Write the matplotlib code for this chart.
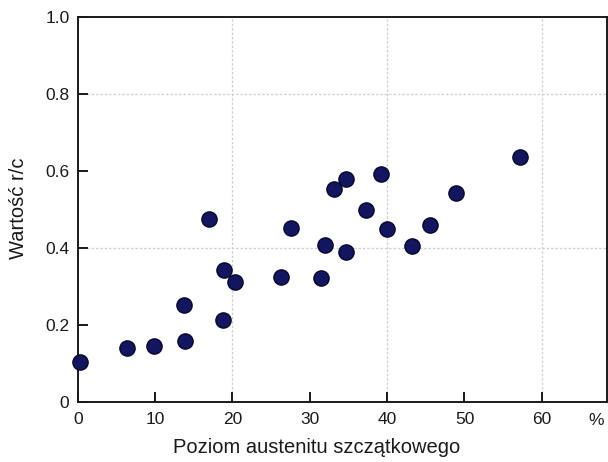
import matplotlib
matplotlib.use("Agg")
import matplotlib.pyplot as plt

# Data
austenite = [0.3, 6.4, 9.9, 13.8, 13.7, 18.8, 18.9, 20.3, 16.9, 26.3, 27.6, 31.4,
             32.0, 33.1, 34.7, 34.7, 37.3, 39.2, 40.0, 43.2, 45.6, 48.9, 57.2]
rc_value = [0.106, 0.141, 0.146, 0.160, 0.252, 0.214, 0.344, 0.312, 0.475, 0.326,
            0.453, 0.324, 0.408, 0.554, 0.580, 0.391, 0.499, 0.592, 0.449, 0.406,
            0.460, 0.544, 0.638]
x_ticks = [0, 10, 20, 30, 40, 50, 60]
y_ticks = [0, 0.2, 0.4, 0.6, 0.8, 1.0]
y_tick_labels = ["0", "0.2", "0.4", "0.6", "0.8", "1.0"]
x_grid = [20, 40, 60]
y_grid = [0.4, 0.8]

plt.rcParams['font.family'] = ['Liberation Sans', 'DejaVu Sans']

fig = plt.figure(figsize=(6.08, 4.62), dpi=100)
ax = fig.add_axes([0.128, 0.129, 0.870, 0.834])

ax.set_xlim(0, 68.4)
ax.set_ylim(0, 1.0)

for xv in x_grid:
    ax.axvline(xv, color='#cfcfcf', lw=0.9, ls=(0, (2, 1.5)), zorder=0)
for yv in y_grid:
    ax.axhline(yv, color='#cfcfcf', lw=0.9, ls=(0, (2, 1.5)), zorder=0)

ax.scatter(austenite, rc_value, s=120, facecolor='#121660', edgecolor='#070828',
           linewidths=1.0, zorder=3, clip_on=False)

ax.set_xticks(x_ticks)
ax.set_yticks(y_ticks)
ax.set_yticklabels(y_tick_labels)
ax.tick_params(direction='in', length=7, width=1.4, labelsize=12.5,
               colors='#1a1a1a', pad=6)
ax.tick_params(axis='x', pad=7)

for sp in ax.spines.values():
    sp.set_linewidth(1.4)
    sp.set_color('#1a1a1a')

ax.text(67.0, -0.027, '%', ha='center', va='top', fontsize=12.5, color='#1a1a1a')

ax.set_xlabel('Poziom austenitu szczątkowego', fontsize=14.5, color='#1a1a1a')
ax.xaxis.set_label_coords(0.452, -0.093)
ax.set_ylabel('Wartość r/c', fontsize=14.5, color='#1a1a1a')
ax.yaxis.set_label_coords(-0.094, 0.505)

fig.savefig('out.png', dpi=100)
